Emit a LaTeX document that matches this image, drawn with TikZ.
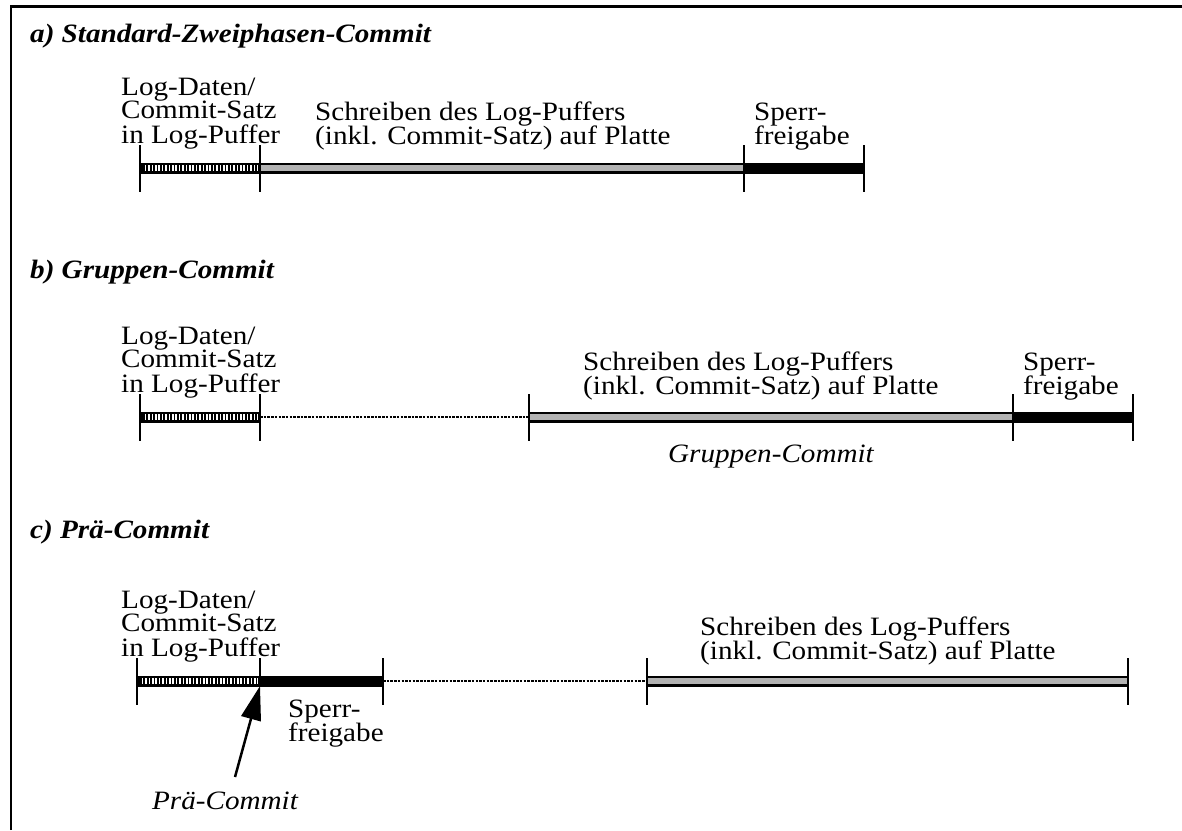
\documentclass[tikz,border=0pt]{standalone}
\usepackage{fontspec}
\setmainfont{Liberation Serif}[FakeStretch=1.1]
\usetikzlibrary{arrows.meta}
\definecolor{barGrey}{RGB}{178,178,178}

% bar pieces between two named points
\newcommand{\hatchbar}[2]{%
  \draw[rim] (#1) -- (#2);
  \draw[inner, white] ([xshift=3pt]#1) -- ([xshift=-2pt]#2);
  \draw[inner, dash pattern=on 1.7pt off 1.7pt] ([xshift=3pt]#1) -- ([xshift=-2pt]#2);}
\newcommand{\greybar}[2]{%
  \draw[rim] (#1) -- (#2);
  \draw[inner, barGrey] (#1) -- (#2);}
\newcommand{\blackbar}[2]{\draw[rim] (#1) -- (#2);}
\newcommand{\dotbar}[2]{\draw[line width=2pt, dash pattern=on 2.5pt off 1.2pt] (#1) -- (#2);}
\newcommand{\tickat}[1]{\draw[tick] ([yshift=23pt]#1) -- ([yshift=-24pt]#1);}

\begin{document}
\begin{tikzpicture}[x=1pt, y=-1pt,
  tick/.style={line width=2.6pt},
  rim/.style={line width=11pt},
  inner/.style={line width=5.6pt},
  txt/.style={inner sep=0pt, anchor=base west, font=\fontsize{26.5}{21}\selectfont},
  ttl/.style={txt, font=\fontsize{26.5}{21}\selectfont\bfseries\itshape},
  lbl/.style={inner sep=0pt, anchor=base, font=\fontsize{26.5}{21}\selectfont\itshape},
  frame/.style={line width=2.5pt}]
\useasboundingbox (0,0) rectangle (1182,830);

% outer frame (top and left edges)
\coordinate (fbl) at (11,830);
\coordinate (ftl) at (11,6.3);
\coordinate (ftr) at (1182,6.3);
\draw[frame] (fbl) -- (ftl) -- (ftr);

% ---------- a) Standard-Zweiphasen-Commit
\node[ttl] (ta) at (30,42) {a) Standard-Zweiphasen-Commit};
\coordinate (a0) at (140,168);
\coordinate (a1) at (260,168);
\coordinate (a2) at (744,168);
\coordinate (a3) at (864,168);
\hatchbar{a0}{a1}
\greybar{a1}{a2}
\blackbar{a2}{a3}
\tickat{a0}\tickat{a1}\tickat{a2}\tickat{a3}
\node[txt] (la) at (121,95) {\begin{tabular}[t]{@{}l@{}}Log-Daten/\\Commit-Satz\\in Log-Puffer\end{tabular}};
\node[txt] (wa) at (315,120) {\begin{tabular}[t]{@{}l@{}}Schreiben des Log-Puffers\\(inkl. Commit-Satz) auf Platte\end{tabular}};
\node[txt] (sa) at (754,120) {\begin{tabular}[t]{@{}l@{}}Sperr-\\freigabe\end{tabular}};

% ---------- b) Gruppen-Commit
\node[ttl] (tb) at (30,278) {b) Gruppen-Commit};
\coordinate (b0) at (140,417);
\coordinate (b1) at (260,417);
\coordinate (b2) at (529,417);
\coordinate (b3) at (1013,417);
\coordinate (b4) at (1133,417);
\hatchbar{b0}{b1}
\dotbar{b1}{b2}
\greybar{b2}{b3}
\blackbar{b3}{b4}
\tickat{b0}\tickat{b1}\tickat{b2}\tickat{b3}\tickat{b4}
\node[txt] (lb) at (121,344) {\begin{tabular}[t]{@{}l@{}}Log-Daten/\\Commit-Satz\\in Log-Puffer\end{tabular}};
\node[txt] (wb) at (583,370) {\begin{tabular}[t]{@{}l@{}}Schreiben des Log-Puffers\\(inkl. Commit-Satz) auf Platte\end{tabular}};
\node[txt] (sb) at (1023,370) {\begin{tabular}[t]{@{}l@{}}Sperr-\\freigabe\end{tabular}};
\node[lbl] (gb) at (771,462) {Gruppen-Commit};

% ---------- c) Prä-Commit
\node[ttl] (tc) at (30,538) {c) Prä-Commit};
\coordinate (c0) at (137,681);
\coordinate (c1) at (260,681);
\coordinate (c2) at (383,681);
\coordinate (c3) at (647,681);
\coordinate (c4) at (1128,681);
\hatchbar{c0}{c1}
\blackbar{c1}{c2}
\dotbar{c2}{c3}
\greybar{c3}{c4}
\tickat{c0}\tickat{c2}\tickat{c3}\tickat{c4}
\draw[tick] ([yshift=23pt]c1) -- ([yshift=-5pt]c1);
\node[txt] (lc) at (121,608) {\begin{tabular}[t]{@{}l@{}}Log-Daten/\\Commit-Satz\\in Log-Puffer\end{tabular}};
\node[txt] (wc) at (700,635) {\begin{tabular}[t]{@{}l@{}}Schreiben des Log-Puffers\\(inkl. Commit-Satz) auf Platte\end{tabular}};
\node[txt] (sc) at (288,717) {\begin{tabular}[t]{@{}l@{}}Sperr-\\freigabe\end{tabular}};
\node[lbl] (pc) at (225,809) {Prä-Commit};
\coordinate (pctail) at (235,777);
\coordinate (pctip) at (260,686);
\draw[line width=2.5pt, -{Triangle[length=34pt,width=20pt]}] (pctail) -- (pctip);
\end{tikzpicture}
\end{document}
